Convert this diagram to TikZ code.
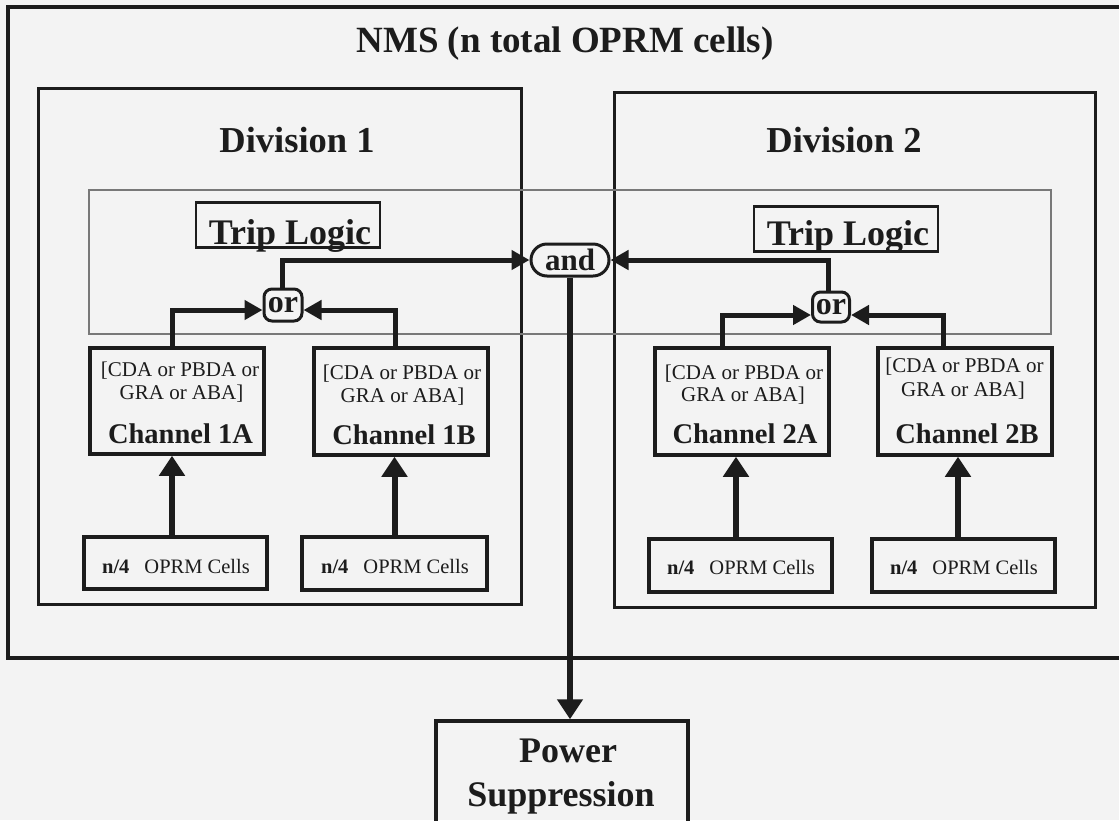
\documentclass[tikz,border=0pt]{standalone}
\usepackage{fontspec}
\setmainfont{Liberation Serif}
\usetikzlibrary{arrows.meta,shapes.misc}
\definecolor{ink}{RGB}{28,28,28}
\definecolor{paper}{RGB}{243,243,243}
\definecolor{bandcol}{RGB}{120,120,120}
\begin{document}
\begin{tikzpicture}[x=1pt,y=-1pt,
  txt/.style={inner sep=0pt, text depth=0pt, text=ink},
  bigtxt/.style={txt, font=\bfseries\fontsize{36.5}{40}\selectfont},
  chantxt/.style={txt, font=\bfseries\fontsize{28.5}{30}\selectfont},
  smalltxt/.style={txt, font=\fontsize{21}{24}\selectfont},
  celltxt/.style={txt, font=\fontsize{20.5}{22}\selectfont},
  frame/.style={draw=ink, line width=3pt},
  chanbox/.style={draw=ink, line width=3.5pt, inner sep=0pt, minimum width=174pt, minimum height=106pt},
  cellbox/.style={draw=ink, line width=3.5pt, inner sep=0pt, minimum width=183pt, minimum height=52pt},
  tripbox/.style={draw=ink, line width=2.5pt, inner sep=0pt, minimum width=184pt, minimum height=45pt},
  gate/.style={draw=ink, line width=3pt, rounded corners=8pt, inner sep=0pt, text=ink,
               font=\bfseries\fontsize{32}{34}\selectfont, minimum width=38pt, minimum height=32pt},
  andgate/.style={draw=ink, line width=3pt, rounded rectangle, inner sep=0pt, text=ink,
               font=\bfseries\fontsize{31}{34}\selectfont, minimum width=78pt, minimum height=32pt},
  conn/.style={draw=ink, line width=5pt},
  arr/.style={conn, -{Triangle[length=18pt,width=19pt]}},
  bigarr/.style={draw=ink, line width=6pt, -{Triangle[length=20pt,width=25pt]}}
]
\useasboundingbox (0,0) rectangle (1119,820);
\clip (0,0) rectangle (1119,820);
\fill[paper] (0,0) rectangle (1119,820);

% outer NMS frame (right side runs off the page)
\draw[draw=ink, line width=3.5pt] (8,7) rectangle (1135,658);
\node[bigtxt, font=\bfseries\fontsize{37}{40}\selectfont] (nms) at (565,40) {NMS (n total OPRM cells)};

% divisions
\draw[frame] (38,88) rectangle (521,604);
\draw[frame] (614,92) rectangle (1095,607);
\node[bigtxt] (d1t) at (297,140) {Division 1};
\node[bigtxt] (d2t) at (844,140) {Division 2};

% trip logic band
\draw[draw=bandcol, line width=1.2pt] (89,190) rectangle (1051,334);

% trip logic boxes
\node[tripbox] (tl1) at (288,225) {};
\node[bigtxt, font=\bfseries\fontsize{36}{40}\selectfont] (tl1t) at (290,232) {Trip Logic};
\node[tripbox] (tl2) at (846,229) {};
\node[bigtxt, font=\bfseries\fontsize{36}{40}\selectfont] (tl2t) at (848,233) {Trip Logic};

% gates
\node[gate] (or1) at (283,305) {or};
\node[gate, minimum width=37pt, minimum height=30pt] (or2) at (831,307) {or};
\node[andgate] (and) at (570,260) {and};

% channels
\node[chanbox] (c1a) at (177,401) {};
\node[chanbox, minimum height=107pt] (c1b) at (401,401.5) {};
\node[chanbox, minimum height=107pt] (c2a) at (742,401.5) {};
\node[chanbox, minimum height=107pt] (c2b) at (965,401.5) {};

\node[smalltxt] (c1al1) at (180,369) {[CDA or PBDA or};
\node[smalltxt] (c1al2) at (181.5,392) {GRA or ABA]};
\node[chantxt]  (c1al3) at (180.5,434) {Channel 1A};
\node[smalltxt] (c1bl1) at (402,372.5) {[CDA or PBDA or};
\node[smalltxt] (c1bl2) at (402.5,395.5) {GRA or ABA]};
\node[chantxt]  (c1bl3) at (404,435) {Channel 1B};
\node[smalltxt] (c2al1) at (744,372) {[CDA or PBDA or};
\node[smalltxt] (c2al2) at (743,394.5) {GRA or ABA]};
\node[chantxt]  (c2al3) at (745,434) {Channel 2A};
\node[smalltxt] (c2bl1) at (964.5,365) {[CDA or PBDA or};
\node[smalltxt] (c2bl2) at (963,389.5) {GRA or ABA]};
\node[chantxt]  (c2bl3) at (967,434) {Channel 2B};

% OPRM cell groups
\node[cellbox] (k1a) at (175.5,563) {};
\node[cellbox, minimum width=185pt, minimum height=53pt] (k1b) at (394.5,563.5) {};
\node[cellbox, minimum height=53pt] (k2a) at (740.5,565.5) {};
\node[cellbox, minimum height=53pt] (k2b) at (963.5,565.5) {};
\node[celltxt] (k1at) at (176,566.5) {\textbf{n/4}\hspace{15pt}OPRM Cells};
\node[celltxt] (k1bt) at (395,566.5) {\textbf{n/4}\hspace{15pt}OPRM Cells};
\node[celltxt] (k2at) at (741,567.5) {\textbf{n/4}\hspace{15pt}OPRM Cells};
\node[celltxt] (k2bt) at (964,567) {\textbf{n/4}\hspace{15pt}OPRM Cells};

% power suppression
\node[draw=ink, line width=3.5pt, inner sep=0pt, minimum width=252pt, minimum height=110pt] (ps) at (562,776) {};
\node[bigtxt, font=\bfseries\fontsize{36}{40}\selectfont] (pst1) at (568,751) {Power};
\node[bigtxt, font=\bfseries\fontsize{36}{40}\selectfont] (pst2) at (561,794) {Suppression};

% connectors: channels -> or
\draw[arr] ([xshift=-5pt]c1a.north) |- ([yshift=-5pt]or1.west);
\draw[arr] ([xshift=-6pt]c1b.north) |- ([yshift=-5pt]or1.east);
\draw[arr] ([xshift=-20pt]c2a.north) |- ([yshift=-8pt]or2.west);
\draw[arr] ([xshift=-22pt]c2b.north) |- ([yshift=-8pt]or2.east);
% or -> and
\draw[arr] ([xshift=-1pt]or1.north) |- (and.west);
\draw[arr] ([xshift=-3pt]or2.north) |- (and.east);
% and -> power suppression
\draw[bigarr] (and.south) -- (and.south |- ps.north);
% cells -> channels
\draw[bigarr] ([xshift=-3.5pt]k1a.north) -- ([xshift=-3.5pt]k1a.north |- c1a.south);
\draw[bigarr] (k1b.north) -- (k1b.north |- c1b.south);
\draw[bigarr] ([xshift=-4.5pt]k2a.north) -- ([xshift=-4.5pt]k2a.north |- c2a.south);
\draw[bigarr] ([xshift=-5.5pt]k2b.north) -- ([xshift=-5.5pt]k2b.north |- c2b.south);
\end{tikzpicture}
\end{document}
